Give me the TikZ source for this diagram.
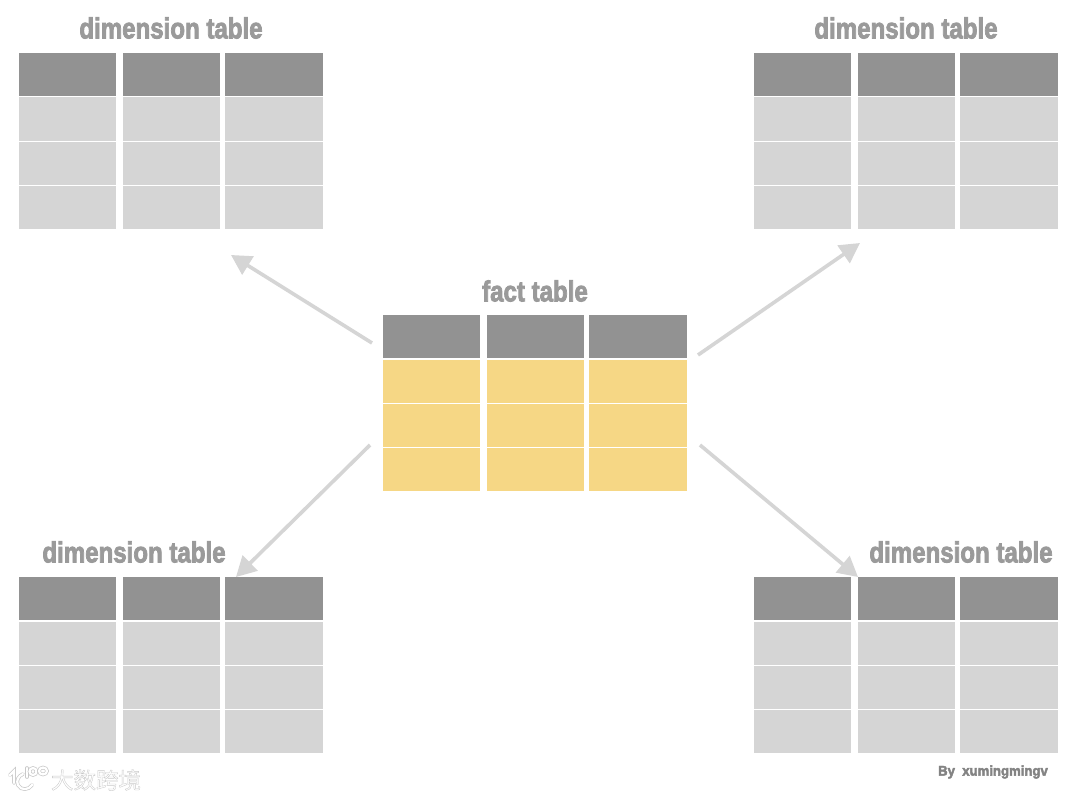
\documentclass[tikz,border=0pt]{standalone}
\usepackage{fontspec}
\setmainfont{Liberation Sans}
\newfontfamily\titlefont[FakeBold=3]{Liberation Sans Bold}
\newfontfamily\cjkmark[FakeBold=1.6]{Noto Sans CJK SC}
\usetikzlibrary{arrows.meta}
\definecolor{headgray}{HTML}{929292}
\definecolor{bodygray}{HTML}{D5D5D5}
\definecolor{factyellow}{HTML}{F6D785}
\definecolor{titlegray}{HTML}{9A9A9A}
\definecolor{halo}{HTML}{C8C8C8}
\tikzset{
  x=1pt,y=-1pt,
  cell/.style={draw=none,inner sep=0pt,outer sep=0pt,anchor=north west,minimum width=#1},
  headcell/.style={cell=#1,fill=headgray,minimum height=43pt},
  bodycell/.style={cell=#1,fill=bodygray,minimum height=43pt},
  factcell/.style={cell=#1,fill=factyellow,minimum height=43pt},
  title/.style={inner sep=0pt,text=titlegray,font=\titlefont\fontsize{29}{29}\selectfont,xscale=.83},
  flow/.style={draw=bodygray,line width=3.6pt,-{Triangle[length=20pt,width=21pt]},shorten >=0pt},
  logo/.style={draw=halo,double=white,double distance=2.2pt,line width=.7pt,line cap=round}
}
% #1 name, #2 x, #3 y, #4 body style
\newcommand{\dbtable}[4]{%
  \foreach \c/\dx/\w in {a/0/97,b/104/97,c/206/98}{%
    \node[headcell=\w pt] (#1-\c0) at (#2+\dx,#3) {};
    \node[#4=\w pt] (#1-\c1) at (#2+\dx,#3+44.5) {};
    \node[#4=\w pt] (#1-\c2) at (#2+\dx,#3+89) {};
    \node[#4=\w pt] (#1-\c3) at (#2+\dx,#3+133) {};
  }%
}
\begin{document}
\begin{tikzpicture}
\useasboundingbox (0,0) rectangle (1080,800);
\fill[white] (0,0) rectangle (1080,800);

\dbtable{tl}{19}{53}{bodycell}
\dbtable{tr}{754}{53}{bodycell}
\dbtable{fact}{383}{315}{factcell}
\dbtable{bl}{19}{577}{bodycell}
\dbtable{br}{754}{577}{bodycell}

\node[title] (ttl) at (171,28) {dimension table};
\node[title] (ttr) at (906,28) {dimension table};
\node[title] (tfact) at (535,291) {fact table};
\node[title] (tbl) at (134,552) {dimension table};
\node[title] (tbr) at (961,552) {dimension table};

\coordinate (s1) at (372,343);
\coordinate (e1) at (231,255);
\coordinate (s2) at (698,355);
\coordinate (e2) at (860,243);
\coordinate (s3) at (370,445);
\coordinate (e3) at (236,577);
\coordinate (s4) at (700,445);
\coordinate (e4) at (858,577);
\draw[flow] (s1) -- (e1);
\draw[flow] (s2) -- (e2);
\draw[flow] (s3) -- (e3);
\draw[flow] (s4) -- (e4);

\node[inner sep=0pt,text=titlegray!85!black,font=\titlefont\fontsize{14}{14}\selectfont,xscale=.94] (by) at (993,772) {By\ \ xumingmingv};

\draw[logo] (10,775) -- (14,771) -- (14,783);
\draw[logo] (23,774) .. controls (18,776) and (16,781) .. (18,785) .. controls (21,791) and (29,790) .. (32,785);
\draw[logo] (27,768) -- (27,777);
\draw[logo] (33,771.5) ellipse [x radius=3.5,y radius=3.5];
\draw[logo] (43,771) ellipse [x radius=4,y radius=3.5];
\node[inner sep=0pt,font=\cjkmark\fontsize{22.5}{22.5}\selectfont] (mark) at (96,780) {\color{halo}\special{pdf:code 1 g}大数跨境};
\end{tikzpicture}
\end{document}
